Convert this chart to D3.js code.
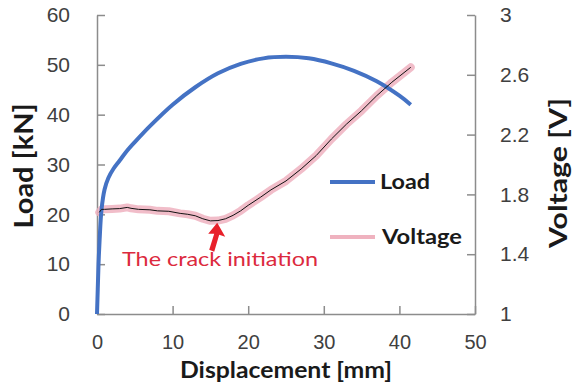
<!DOCTYPE html>
<html>
<head>
<meta charset="utf-8">
<script src="https://d3js.org/d3.v7.min.js"></script>
<style>
  body { margin: 0; background: #fff; }
  svg { font-family: Lato, 'Open Sans', sans-serif; }
  .axis text { font-size: 21px; fill: #404040; }
  .axis path, .axis line { stroke: #8c8c8c; stroke-width: 1.5; }
  .title { font-weight: bold; fill: #1a1a1a; }
</style>
</head>
<body>
<svg id="chart" width="572" height="386"></svg>
<script>
// load curve [displacement mm, load kN]
const loadDisp = [0, 0.1, 0.2, 0.35, 0.6, 1, 1.5, 2.2, 3, 4, 5, 7, 10, 13, 16, 19, 22, 25, 28, 31, 34, 37, 40, 41.5];
const loadVals = [0, 5, 10, 15, 21, 25, 27.3, 29.2, 30.8, 32.8, 34.5, 37.7, 42, 45.5, 48.3, 50.2, 51.3, 51.6, 51.3, 50.3, 48.8, 46.7, 43.8, 42];

// voltage curve [displacement mm, voltage V]
const voltDisp = [0.3, 0.6, 1, 2, 3, 4, 4.5, 5.5, 7, 8, 9.5, 11, 12, 13, 14, 15, 16, 17, 18, 19, 20, 21.6, 23, 25, 27, 29, 31, 33, 35, 37, 39, 41.5];
const voltVals = [1.68, 1.70, 1.70, 1.703, 1.705, 1.713, 1.707, 1.70, 1.697, 1.69, 1.687, 1.673, 1.667, 1.657, 1.637, 1.623, 1.625, 1.637, 1.66, 1.69, 1.727, 1.78, 1.83, 1.89, 1.97, 2.06, 2.17, 2.27, 2.36, 2.46, 2.55, 2.65];

const xTicks = [0, 10, 20, 30, 40, 50];
const yTicks = [0, 10, 20, 30, 40, 50, 60];
const vTicks = [1, 1.4, 1.8, 2.2, 2.6, 3];

const svg = d3.select("#chart");
const margin = { top: 15, right: 97, bottom: 72, left: 97 };
const W = 572, H = 386;

const x = d3.scaleLinear().domain([0, 50]).range([margin.left, W - margin.right]);
const y = d3.scaleLinear().domain([0, 60]).range([H - margin.bottom, margin.top]);
const yv = d3.scaleLinear().domain([1, 3]).range([H - margin.bottom, margin.top]);

// axes
svg.append("g").attr("class", "axis")
  .attr("transform", `translate(0,${H - margin.bottom})`)
  .call(d3.axisBottom(x).tickValues(xTicks).tickSizeInner(-8).tickSizeOuter(0).tickPadding(21))
  .call(g => g.selectAll("text").attr("dy", "0.71em").style("font-size", "20px"));

svg.append("g").attr("class", "axis")
  .attr("transform", `translate(${margin.left},0)`)
  .call(d3.axisLeft(y).tickValues(yTicks).tickSizeInner(-8).tickSizeOuter(0).tickPadding(27));

svg.append("g").attr("class", "axis")
  .attr("transform", `translate(${W - margin.right},0)`)
  .call(d3.axisRight(yv).tickValues(vTicks).tickFormat(d3.format("")).tickSizeInner(-8).tickSizeOuter(0).tickPadding(25));

// titles
svg.append("text").attr("class", "title")
  .attr("text-anchor", "middle")
  .attr("font-size", 23)
  .attr("x", x(25)).attr("y", 378)
  .attr("textLength", 212).attr("lengthAdjust", "spacingAndGlyphs")
  .text("Displacement [mm]");

svg.append("text").attr("class", "title")
  .attr("text-anchor", "middle")
  .attr("font-size", 26)
  .attr("textLength", 125).attr("lengthAdjust", "spacingAndGlyphs")
  .attr("transform", `translate(33,166) rotate(-90)`)
  .text("Load [kN]");

svg.append("text").attr("class", "title")
  .attr("text-anchor", "middle")
  .attr("font-size", 25)
  .attr("textLength", 150).attr("lengthAdjust", "spacingAndGlyphs")
  .attr("transform", `translate(567,173) rotate(-90)`)
  .text("Voltage  [V]");

// lines
const loadLine = d3.line().x((d, i) => x(loadDisp[i])).y(d => y(d)).curve(d3.curveCatmullRom.alpha(0.5));
const voltLine = d3.line().x((d, i) => x(voltDisp[i])).y(d => yv(d)).curve(d3.curveLinear);

svg.append("path").datum(voltVals)
  .attr("d", voltLine)
  .attr("fill", "none")
  .attr("stroke", "#efb2bf")
  .attr("stroke-width", 8)
  .attr("stroke-linejoin", "round")
  .attr("stroke-linecap", "round")
  .attr("opacity", 0.85);

svg.append("path").datum(loadVals)
  .attr("d", loadLine)
  .attr("fill", "none")
  .attr("stroke", "#4472c4")
  .attr("stroke-width", 4);

svg.append("path").datum(voltVals)
  .attr("d", voltLine)
  .attr("fill", "none")
  .attr("stroke", "#111")
  .attr("stroke-width", 1);

// legend
const legend = svg.append("g");
legend.append("line").attr("x1", 330).attr("x2", 375).attr("y1", 182).attr("y2", 182)
  .attr("stroke", "#4472c4").attr("stroke-width", 4);
legend.append("text").attr("class", "title").attr("font-size", 21)
  .attr("x", 380).attr("y", 189).attr("textLength", 50).attr("lengthAdjust", "spacingAndGlyphs")
  .text("Load");
legend.append("line").attr("x1", 330).attr("x2", 375).attr("y1", 237).attr("y2", 237)
  .attr("stroke", "#efb2bf").attr("stroke-width", 4);
legend.append("text").attr("class", "title").attr("font-size", 21)
  .attr("x", 382).attr("y", 244).attr("textLength", 80).attr("lengthAdjust", "spacingAndGlyphs")
  .text("Voltage");

// annotation
const tipX = x(15.9), tipY = yv(1.623) + 2;
svg.append("path")
  .attr("d", `M${tipX},${tipY} L${tipX + 8},${tipY + 14} L${tipX + 2},${tipY + 12} L${tipX - 3},${tipY + 29} L${tipX - 8},${tipY + 27} L${tipX - 3},${tipY + 11} L${tipX - 9},${tipY + 11} Z`)
  .attr("fill", "#e8202a");

svg.append("text")
  .attr("x", 122).attr("y", 266)
  .attr("font-size", 20)
  .attr("fill", "#dc2a3e")
  .attr("textLength", 196).attr("lengthAdjust", "spacingAndGlyphs")
  .text("The  crack initiation");
</script>
</body>
</html>
